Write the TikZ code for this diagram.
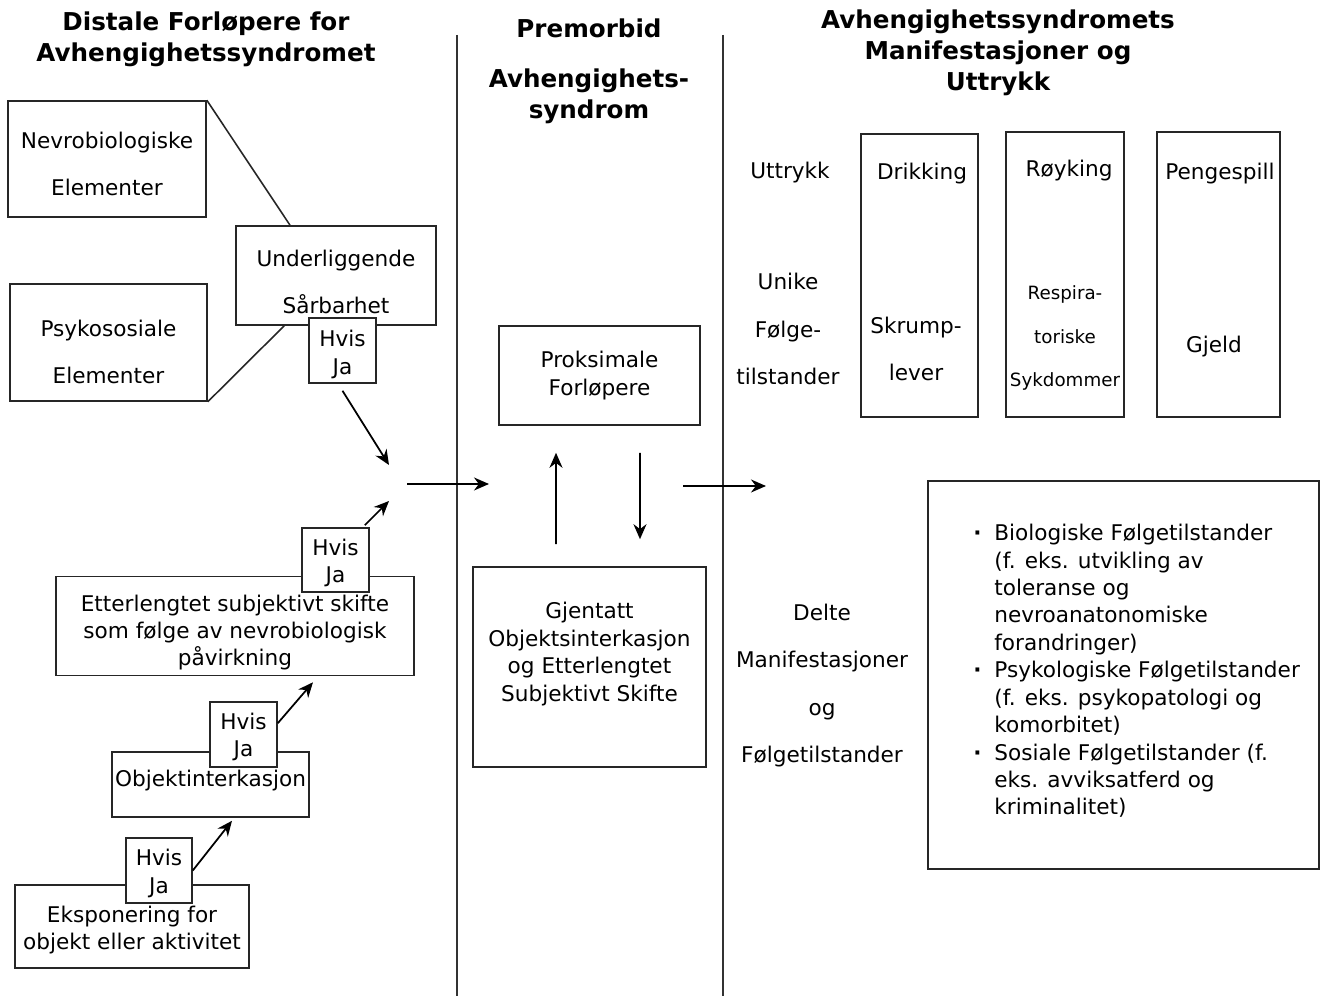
\documentclass[tikz,border=0pt]{standalone}
\usepackage{fontspec}
\setmainfont{DejaVu Sans}
\usepackage{tikz}
\usetikzlibrary{arrows.meta}
\newcommand{\boxfont}{\fontsize{12.3}{15.5}\selectfont}
\newcommand{\listfont}{\fontsize{12.3}{15.6}\selectfont}
\newcommand{\airfont}{\fontsize{12.3}{26.8}\selectfont}
\newcommand{\smallboxfont}{\fontsize{10.4}{24.6}\selectfont}
\newcommand{\headfont}{\fontsize{14}{17.6}\selectfont\bfseries}
\newcommand{\bitem}{\llap{{\bfseries ·}\hspace{7.2pt}}}
\newcommand{\lift}[1]{\rule{0pt}{#1}}
\tikzset{
  box/.style={draw=black!85,line width=0.9pt,fill=white,inner sep=0pt,align=center,font=\boxfont},
  sz/.style 2 args={minimum width=#1*0.02cm,minimum height=#2*0.02cm},
  txt/.style={align=center,inner sep=0pt,font=\boxfont},
  airy/.style={font=\airfont},
  ttl/.style={align=center,inner sep=0pt,font=\headfont},
  arr/.style={line width=1pt,-{Stealth[length=3mm,width=2.6mm]}},
  lnk/.style={line width=0.9pt,black!85},
  sep/.style={line width=1pt,black!80}
}

\begin{document}
\begin{tikzpicture}[x=0.02cm,y=-0.02cm]
\useasboundingbox (0,0) rectangle (1320,996);
\draw[sep] (457,35) -- (457,996);
\draw[sep] (723,35) -- (723,996);

\node[ttl] (lhead) at (206,39) {Distale Forløpere for\\Avhengighetssyndromet};
\node[ttl] (mhead) at (589,71) {Premorbid\\[11pt]Avhengighets-\\syndrom};
\node[ttl] (rhead) at (998,53) {Avhengighetssyndromets\\Manifestasjoner og\\Uttrykk};

\node[box,airy,sz={198}{116}] (nevro) at (107,159) {\lift{15.1pt}Nevrobiologiske\\Elementer};
\node[box,airy,sz={197}{117}] (psyko) at (108.5,342.5) {\lift{19.6pt}Psykososiale\\Elementer};
\node[box,airy,sz={200}{99}] (under) at (336,275.5) {\lift{16.2pt}Underliggende\\Sårbarhet};
\node[box,sz={67}{65}] (hj1) at (342.5,350.5) {\lift{13.9pt}Hvis\\Ja};
\draw[lnk] (nevro.north east) -- ([xshift=-0.92cm]under.north);
\draw[lnk] (psyko.south east) -- ([xshift=0.98cm]under.south west);

\node[box,sz={358}{99}] (etter) at (235,626) {\lift{16.8pt}Etterlengtet subjektivt skifte\\som følge av nevrobiologisk\\påvirkning};
\node[box,sz={67}{64}] (hj2) at (335.5,560) {\lift{12.8pt}Hvis\\Ja};
\node[box,sz={197}{65}] (obj) at (210.5,784.5) {};
\node[txt] (objtxt) at (210.5,781) {Objektinterkasjon};
\node[box,sz={67}{65}] (hj3) at (243.5,734.5) {\lift{12.2pt}Hvis\\Ja};
\node[box,sz={234}{83}] (eksp) at (132,926.5) {\lift{13.4pt}Eksponering for\\objekt eller aktivitet};
\node[box,sz={66}{65}] (hj4) at (159,870.5) {\lift{12.8pt}Hvis\\Ja};

\coordinate (m1) at (389,465);
\coordinate (m2) at (389,501);
\coordinate (lout) at (407,484);
\coordinate (min) at (489,484);
\draw[arr] ([yshift=-0.14cm]hj1.south) -- (m1);
\draw[arr] ([xshift=-0.1cm,yshift=0.04cm]hj2.north east) -- (m2);
\draw[arr] ([yshift=-0.44cm]hj3.north east) -- ([xshift=1.56cm,yshift=-0.12cm]etter.south);
\draw[arr] (hj4.east) -- ([xshift=0.43cm,yshift=-0.06cm]obj.south);
\draw[arr] (lout) -- (min);

\node[box,sz={201}{99}] (prox) at (599.5,375.5) {Proksimale\\Forløpere};
\node[box,sz={233}{200}] (gjen) at (589.5,667) {};
\node[txt,font=\listfont] (gjentxt) at (589.5,654) {Gjentatt\\Objektsinterkasjon\\og Etterlengtet\\Subjektivt Skifte};
\draw[arr] ([xshift=-0.67cm,yshift=0.44cm]gjen.north) -- ([xshift=-0.87cm,yshift=-0.54cm]prox.south);
\draw[arr] ([xshift=0.81cm,yshift=-0.54cm]prox.south) -- ([xshift=1.01cm,yshift=0.54cm]gjen.north);
\coordinate (mout) at (683,486);
\coordinate (rin) at (766,486);
\draw[arr] (mout) -- (rin);

\node[txt] (uttr) at (790,173) {Uttrykk};
\node[txt,airy] (unike) at (788,329) {Unike\\Følge-\\tilstander};
\node[box,sz={117}{283}] (drikk) at (919.5,275.5) {};
\node[box,sz={118}{285}] (royk) at (1065,274.5) {};
\node[box,sz={123}{285}] (penge) at (1218.5,274.5) {};
\node[txt] (drikktxt) at (922,174) {Drikking};
\node[txt,airy] (skrump) at (916,348.5) {Skrump-\\lever};
\node[txt] (royktxt) at (1069,171) {Røyking};
\node[txt,font=\smallboxfont] (resp) at (1065,338) {Respira-\\toriske\\Sykdommer};
\node[txt] (pengetxt) at (1220,174) {Pengespill};
\node[txt] (gjeld) at (1214,347) {Gjeld};

\node[txt,airy] (delte) at (822,685.5) {Delte\\Manifestasjoner\\og\\Følgetilstander};
\node[box,sz={391}{388}] (folge) at (1123.5,675) {};
\node[txt,font=\listfont,align=left,anchor=north west] (liste) at (994,524) {\bitem Biologiske Følgetilstander\\(f. eks. utvikling av\\toleranse og\\nevroanatonomiske\\forandringer)\\\bitem Psykologiske Følgetilstander\\(f. eks. psykopatologi og\\komorbitet)\\\bitem Sosiale Følgetilstander (f.\\eks. avviksatferd og\\kriminalitet)};
\end{tikzpicture}
\end{document}
